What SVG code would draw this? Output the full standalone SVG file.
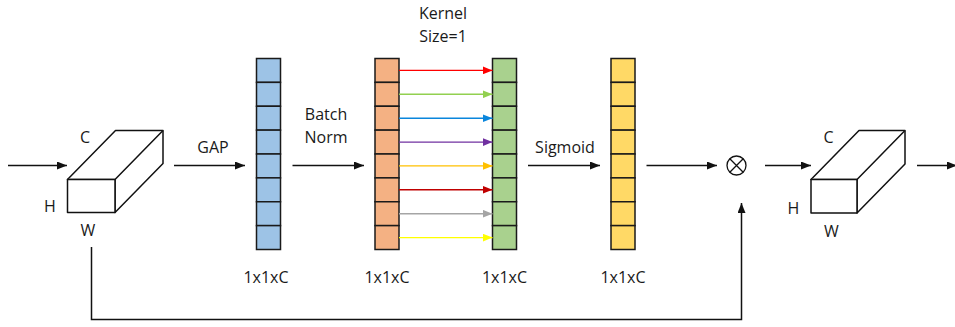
<svg xmlns="http://www.w3.org/2000/svg" width="955" height="327" viewBox="0 0 955 327">
  <style>
    text { font-family: "Open Sans", "Liberation Sans", sans-serif; font-size: 16px; fill: #1a1a1a; text-anchor: middle; }
    .line { stroke: #111; stroke-width: 1.5; fill: none; }
    .box { fill: #fff; stroke: #111; stroke-width: 1.5; stroke-linejoin: round; }
    .cell { stroke: #1a1a1a; stroke-width: 1.5; }
    .blue { fill: #9dc3e6; }
    .orange { fill: #f4b183; }
    .green { fill: #a9d18e; }
    .yellow { fill: #ffd966; }
    .k { stroke-width: 1.4; fill: none; }
  </style>
  <defs>
    <marker id="ah" markerUnits="userSpaceOnUse" markerWidth="10" markerHeight="8" refX="10" refY="4" orient="auto">
      <path d="M0,0 L10,4 L0,8 z" fill="#111"/>
    </marker>
    <marker id="ah-red" markerUnits="userSpaceOnUse" markerWidth="10" markerHeight="8" refX="10" refY="4" orient="auto"><path d="M0,0 L10,4 L0,8 z" fill="#ff0000"/></marker>
    <marker id="ah-lgreen" markerUnits="userSpaceOnUse" markerWidth="10" markerHeight="8" refX="10" refY="4" orient="auto"><path d="M0,0 L10,4 L0,8 z" fill="#92d050"/></marker>
    <marker id="ah-blue" markerUnits="userSpaceOnUse" markerWidth="10" markerHeight="8" refX="10" refY="4" orient="auto"><path d="M0,0 L10,4 L0,8 z" fill="#0a86dc"/></marker>
    <marker id="ah-purple" markerUnits="userSpaceOnUse" markerWidth="10" markerHeight="8" refX="10" refY="4" orient="auto"><path d="M0,0 L10,4 L0,8 z" fill="#7030a0"/></marker>
    <marker id="ah-amber" markerUnits="userSpaceOnUse" markerWidth="10" markerHeight="8" refX="10" refY="4" orient="auto"><path d="M0,0 L10,4 L0,8 z" fill="#ffc000"/></marker>
    <marker id="ah-dred" markerUnits="userSpaceOnUse" markerWidth="10" markerHeight="8" refX="10" refY="4" orient="auto"><path d="M0,0 L10,4 L0,8 z" fill="#c00000"/></marker>
    <marker id="ah-gray" markerUnits="userSpaceOnUse" markerWidth="10" markerHeight="8" refX="10" refY="4" orient="auto"><path d="M0,0 L10,4 L0,8 z" fill="#a5a5a5"/></marker>
    <marker id="ah-yellow" markerUnits="userSpaceOnUse" markerWidth="10" markerHeight="8" refX="10" refY="4" orient="auto"><path d="M0,0 L10,4 L0,8 z" fill="#ffff00"/></marker>
    <!-- one column of 8 channel cells, 24 x 191 -->
    <g id="cells">
      <rect class="cell" x="0" y="0" width="24" height="23.875"/>
      <rect class="cell" x="0" y="23.875" width="24" height="23.875"/>
      <rect class="cell" x="0" y="47.75" width="24" height="23.875"/>
      <rect class="cell" x="0" y="71.625" width="24" height="23.875"/>
      <rect class="cell" x="0" y="95.5" width="24" height="23.875"/>
      <rect class="cell" x="0" y="119.375" width="24" height="23.875"/>
      <rect class="cell" x="0" y="143.25" width="24" height="23.875"/>
      <rect class="cell" x="0" y="167.125" width="24" height="23.875"/>
    </g>
  </defs>

  <!-- input feature map -->
  <g id="input-tensor">
    <path class="box" d="M67.5,179.5 L115.5,130.5 L163,130.5 L163,163.5 L115,212.5 L115,179.5 Z"/>
    <path class="box" d="M67.5,179.5 L115,179.5 L163,130.5"/>
    <rect class="box" x="67.5" y="179.5" width="47.5" height="33"/>
    <text x="85" y="142.5">C</text>
    <text x="50" y="212">H</text>
    <text x="88" y="236">W</text>
  </g>

  <!-- pooled channel descriptor -->
  <g id="gap-vector">
    <use href="#cells" x="256.5" y="58.5" class="blue"/>
    <text x="266" y="283">1x1xC</text>
  </g>

  <!-- batch-normalised descriptor -->
  <g id="bn-vector">
    <use href="#cells" x="375" y="58.5" class="orange"/>
    <text x="387" y="283">1x1xC</text>
  </g>

  <!-- 1D convolution output -->
  <g id="conv-vector">
    <use href="#cells" x="492.5" y="58.5" class="green"/>
    <text x="504.5" y="283">1x1xC</text>
  </g>

  <!-- channel attention weights -->
  <g id="sigmoid-vector">
    <use href="#cells" x="611" y="58.5" class="yellow"/>
    <text x="623" y="283">1x1xC</text>
  </g>

  <!-- element-wise multiplication -->
  <g id="multiply">
    <circle cx="736.5" cy="165.5" r="9.5" fill="#fff" stroke="#111" stroke-width="1.3"/>
    <path d="M729.8,158.8 L743.2,172.2 M743.2,158.8 L729.8,172.2" stroke="#111" stroke-width="1.3"/>
  </g>

  <!-- output feature map -->
  <g id="output-tensor">
    <path class="box" d="M811,179.5 L859,130.5 L905,130.5 L905,164 L857,213 L857,179.5 Z"/>
    <path class="box" d="M811,179.5 L857,179.5 L905,130.5"/>
    <rect class="box" x="811" y="179.5" width="46" height="33.5"/>
    <text x="828.5" y="142.5">C</text>
    <text x="793.5" y="213.5">H</text>
    <text x="831.5" y="237">W</text>
  </g>

  <g id="connectors">
    <path class="line" d="M8,165.5 H67" marker-end="url(#ah)"/>
    <path class="line" d="M174,165.5 H245" marker-end="url(#ah)"/>
    <path class="line" d="M292.5,165.5 H364" marker-end="url(#ah)"/>
    <path class="line" d="M528,165.5 H600" marker-end="url(#ah)"/>
    <path class="line" d="M646.5,165.5 H717" marker-end="url(#ah)"/>
    <path class="line" d="M765,165.5 H811" marker-end="url(#ah)"/>
    <path class="line" d="M917,165.5 H957" marker-end="url(#ah)"/>
    <path class="line" d="M91.5,247 V319.5 H741.5 V203" marker-end="url(#ah)"/>

    <!-- per-channel kernel connections -->
    <path class="k" stroke="#ff0000" d="M399,70.4 H492.5" marker-end="url(#ah-red)"/>
    <path class="k" stroke="#92d050" d="M399,94.3 H492.5" marker-end="url(#ah-lgreen)"/>
    <path class="k" stroke="#0a86dc" d="M399,118.2 H492.5" marker-end="url(#ah-blue)"/>
    <path class="k" stroke="#7030a0" d="M399,142.1 H492.5" marker-end="url(#ah-purple)"/>
    <path class="k" stroke="#ffc000" d="M399,165.9 H492.5" marker-end="url(#ah-amber)"/>
    <path class="k" stroke="#c00000" d="M399,189.8 H492.5" marker-end="url(#ah-dred)"/>
    <path class="k" stroke="#a5a5a5" d="M399,213.7 H492.5" marker-end="url(#ah-gray)"/>
    <path class="k" stroke="#ffff00" d="M399,237.6 H492.5" marker-end="url(#ah-yellow)"/>
  </g>

  <!-- operation labels -->
  <text x="213" y="153">GAP</text>
  <text x="326" y="120">Batch</text>
  <text x="326" y="142.5">Norm</text>
  <text x="443" y="18.5">Kernel</text>
  <text x="443" y="41.5">Size=1</text>
  <text x="565" y="152.5">Sigmoid</text>
</svg>
